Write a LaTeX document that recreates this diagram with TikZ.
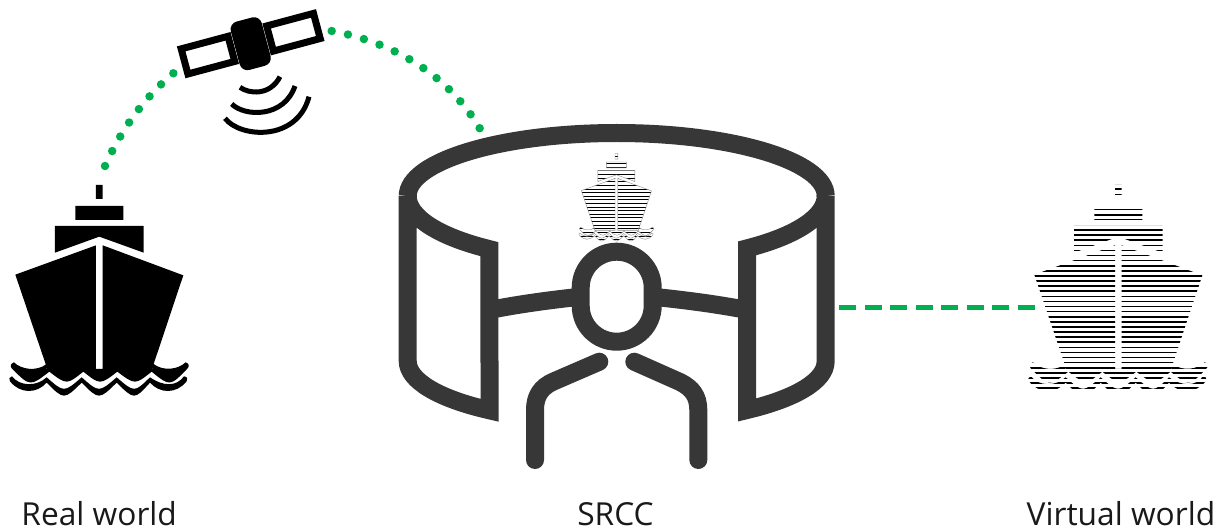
\documentclass[tikz,border=0pt]{standalone}
\usepackage{xcolor}
\usepackage{fontspec}
\setmainfont{Open Sans}
\usetikzlibrary{arrows.meta, positioning, calc}
\definecolor{mygreen}{RGB}{0,176,80}
\definecolor{mydark}{RGB}{55,55,55}
\tikzset{
  caption/.style={anchor=base, font=\fontsize{31.7}{36}\selectfont, text=black!90, inner sep=0pt},
  wall/.style={draw=mydark, line width=18pt, miter limit=12},
  limb/.style={draw=mydark, line width=18pt, line cap=round},
  headbox/.style={rectangle, draw=mydark, line width=18pt, minimum width=72pt, minimum height=90pt,
    inner sep=0pt, outer sep=0pt, rounded corners=36pt},
  dotline/.style={draw=mygreen, line width=8.5pt, line cap=round, dash pattern=on 0pt off 16.6pt},
  dashline/.style={draw=mygreen, line width=4.7pt, dash pattern=on 17.3pt off 8.2pt},
  panel/.style={draw=black, fill=white, line width=7pt},
  signal/.style={draw=black, line width=5pt},
  hatch/.style={draw=black, line width=#1}
}
% ship outline, in units of a third of a pixel
\newcommand{\shipshape}{
  (288,45) rectangle (308,87)
  (226,108) rectangle (370,150)
  (165,168) -- (431,168) -- (431,248) -- (298,200) -- (165,248) -- cycle
  (46,314) -- (288,226) -- (288,600) -- (143,600) -- cycle
  (308,226) -- (550,316) -- (455,600) -- (308,600) -- cycle
  (42,577) .. controls (62,598) and (110,606) .. (140,582) -- (140,597) -- (458,597) -- (458,580)
    .. controls (490,606) and (535,598) .. (557,577) .. controls (566,580) and (570,588) .. (563,595)
    .. controls (510,650) .. (455,605) .. controls (405,645) .. (352,605)
    .. controls (300,645) .. (250,605) .. controls (200,645) .. (148,605)
    .. controls (90,650) .. (35,595) .. controls (29,588) and (33,580) .. (42,577) -- cycle
  (36,619) .. controls (60,650) and (110,650) .. (140,622) .. controls (192,668) .. (245,622)
    .. controls (297,668) .. (350,622) .. controls (403,668) .. (450,622)
    .. controls (490,650) and (530,650) .. (552,619) .. controls (562,620) and (565,628) .. (560,634)
    .. controls (530,672) and (480,672) .. (450,638) .. controls (403,690) .. (350,638)
    .. controls (297,690) .. (245,638) .. controls (192,690) .. (140,638)
    .. controls (110,672) and (60,672) .. (30,634) .. controls (25,628) and (28,620) .. (36,619) -- cycle
}
% hatched ship: gap between lines, number of lines, line width
\newcommand{\hatchship}[3]{
  \begin{scope}
    \clip \shipshape;
    \foreach \n in {0,...,#2}
      \draw[hatch=#3] (0,42.6+\n*#1) -- (600,42.6+\n*#1);
  \end{scope}
}

\begin{document}
\begin{tikzpicture}[x=1pt, y=-1pt]
  \useasboundingbox (0,0) rectangle (1225,529);

  % Real ship
  \begin{scope}[shift={(0,170)}, scale=0.3333]
    \fill[black] \shipshape;
  \end{scope}

  % Virtual ship
  \begin{scope}[shift={(1019,170)}, scale=0.3333]
    \hatchship{15.3}{40}{1.6pt}
  \end{scope}

  % Ship on the screen
  \begin{scope}[shift={(575,147)}, scale=0.139]
    \hatchship{26}{24}{1pt}
    \draw[black!45, line width=0.4pt] \shipshape;
  \end{scope}

  % Satellite
  \begin{scope}[shift={(250.7,43.7)}, rotate=15]
    \draw[panel] (20,-13) rectangle (68.5,13);
    \draw[panel] (-20,-13) rectangle (-68.5,13);
    \fill[black, rounded corners=8pt] (-16,-25) rectangle (16,25);
  \end{scope}
  \draw[signal] (240,87.3) .. controls (249,94) and (270,96) .. (280,76.7);
  \draw[signal] (231.7,104) .. controls (245,117) and (284,118) .. (295,86);
  \draw[signal] (225,118.3) .. controls (240,138) and (297,142) .. (309,96.7);

  % Screen
  \draw[wall] (407.7,196) arc [start angle=180, end angle=360, x radius=209, y radius=63];
  \draw[wall] (407.7,196) arc [start angle=180, end angle=127.5, x radius=209, y radius=67]
    -- (489.5,410.3) arc [start angle=127.5, end angle=180, x radius=209, y radius=62] -- cycle;
  \draw[wall] (825.7,196) arc [start angle=0, end angle=51.4, x radius=209, y radius=67]
    -- (747,410) arc [start angle=51.4, end angle=0, x radius=209, y radius=62] -- cycle;

  % Nodes
  \node[headbox] (head) at (616.7,296.7) {};
  \coordinate (armleft) at (489.5,310);
  \coordinate (armright) at (747,310);
  \coordinate (dashstart) at (839,307.7);
  \coordinate (dashend) at (1035,307.7);
  \coordinate (shipdot) at (105,166);
  \coordinate (satleft) at (174,72.7);
  \coordinate (satright) at (331.7,31);
  \coordinate (screendot) at (480.3,129.3);
  \node[caption] (real) at (99.2,525) {Real world};
  \node[caption] (srcc) at (615.5,525) {SRCC};
  \node[caption] (virtual) at (1121,525) {Virtual world};

  % Arms and shoulders
  \draw[limb, line cap=butt] (armleft) .. controls (520,304) and (550,300) .. (head.west);
  \draw[limb, line cap=butt] (armright) .. controls (716,304) and (684,300) .. (head.east);
  \draw[limb] (599.3,361.7) -- (553.5,381.5) .. controls (541,387) and (535,396) .. (535,410) -- (535,460);
  \draw[limb] (634.3,361.7) -- (680,382) .. controls (692,388) and (698.3,396) .. (698.3,410) -- (698.3,460);

  % Links
  \draw[dotline] (shipdot) .. controls (121,130) and (144,97.7) .. (satleft);
  \draw[dotline] (satright) .. controls (392,42) and (448,74) .. (screendot);
  \draw[dashline] (dashstart) -- (dashend);
\end{tikzpicture}
\end{document}
